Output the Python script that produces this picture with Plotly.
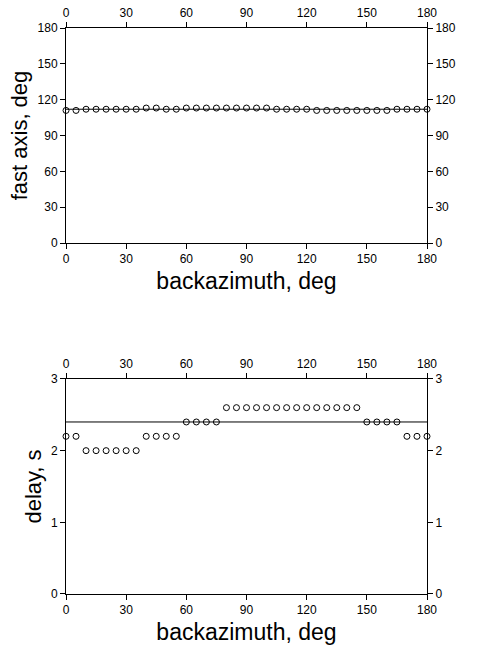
import plotly.graph_objects as go

baz = list(range(0, 181, 5))
fast_axis = [111, 111, 112, 112, 112, 112, 112, 112, 113, 113, 112, 112, 113, 113, 113, 113, 113, 113, 113,
             113, 113, 112, 112, 112, 112, 111, 111, 111, 111, 111, 111, 111, 111, 112, 112, 112, 112]
delay = [2.2, 2.2, 2.0, 2.0, 2.0, 2.0, 2.0, 2.0, 2.2, 2.2, 2.2, 2.2, 2.4, 2.4, 2.4, 2.4,
         2.6, 2.6, 2.6, 2.6, 2.6, 2.6, 2.6, 2.6, 2.6, 2.6, 2.6, 2.6, 2.6, 2.6,
         2.4, 2.4, 2.4, 2.4, 2.2, 2.2, 2.2]
fast_mean = 112
delay_mean = 2.4
x_ticks = [0, 30, 60, 90, 120, 150, 180]
fast_ticks = [0, 30, 60, 90, 120, 150, 180]
delay_ticks = [0, 1, 2, 3]

FONT = "Liberation Sans, Arial, sans-serif"
fig = go.Figure()

marker = dict(symbol="circle-open", size=6, color="black", line=dict(width=1, color="black"))

fig.add_trace(go.Scatter(x=[baz[0], baz[-1]], y=[fast_mean, fast_mean], mode="lines",
                         line=dict(color="black", width=1), xaxis="x", yaxis="y", cliponaxis=False))
fig.add_trace(go.Scatter(x=baz, y=fast_axis, mode="markers", marker=marker, xaxis="x", yaxis="y",
                         cliponaxis=False))
fig.add_trace(go.Scatter(x=[baz[0], baz[-1]], y=[delay_mean, delay_mean], mode="lines",
                         line=dict(color="black", width=1), xaxis="x2", yaxis="y2", cliponaxis=False))
fig.add_trace(go.Scatter(x=baz, y=delay, mode="markers", marker=marker, xaxis="x2", yaxis="y2",
                         cliponaxis=False))
# invisible companions so the mirrored labelled axes are drawn
fig.add_trace(go.Scatter(x=baz, y=fast_axis, mode="markers", opacity=0, hoverinfo="skip",
                         xaxis="x3", yaxis="y3"))
fig.add_trace(go.Scatter(x=baz, y=delay, mode="markers", opacity=0, hoverinfo="skip",
                         xaxis="x4", yaxis="y4"))

common = dict(showgrid=False, zeroline=False, ticks="outside", ticklen=5, tickwidth=1,
              tickcolor="black", linecolor="black", linewidth=1, showline=True, automargin=False,
              tickfont=dict(family=FONT, size=12, color="black"))
xtitle_font = dict(family=FONT, size=23, color="black")
ytitle_font = dict(family=FONT, size=22, color="black")

top_dom = [0.6201, 1.0]
bot_dom = [0.0, 0.3799]

fig.update_layout(
    width=478, height=658,
    margin=dict(l=66, r=51, t=28, b=64, autoexpand=False),
    paper_bgcolor="white", plot_bgcolor="white",
    showlegend=False,
    xaxis=dict(range=[0, 180], tickvals=x_ticks, anchor="y", domain=[0, 1], mirror=True,
               title=dict(text="backazimuth, deg", font=xtitle_font, standoff=7), **common),
    yaxis=dict(range=[0, 180], tickvals=fast_ticks, anchor="x", domain=top_dom, mirror=True,
               title=dict(text="fast axis, deg", font=ytitle_font, standoff=3), **common),
    xaxis3=dict(range=[0, 180], tickvals=x_ticks, overlaying="x", side="top", anchor="y", **common),
    yaxis3=dict(range=[0, 180], tickvals=fast_ticks, overlaying="y", side="right", anchor="x", **common),
    xaxis2=dict(range=[0, 180], tickvals=x_ticks, anchor="y2", domain=[0, 1], mirror=True,
                title=dict(text="backazimuth, deg", font=xtitle_font, standoff=7), **common),
    yaxis2=dict(range=[0, 3], tickvals=delay_ticks, anchor="x2", domain=bot_dom, mirror=True,
                title=dict(text="delay, s", font=ytitle_font, standoff=3), **common),
    xaxis4=dict(range=[0, 180], tickvals=x_ticks, overlaying="x2", side="top", anchor="y2", **common),
    yaxis4=dict(range=[0, 3], tickvals=delay_ticks, overlaying="y2", side="right", anchor="x2", **common),
)

fig.write_html("out.html", config={"displayModeBar": False},
               post_script="document.body.style.margin='0';document.body.style.padding='0';")
